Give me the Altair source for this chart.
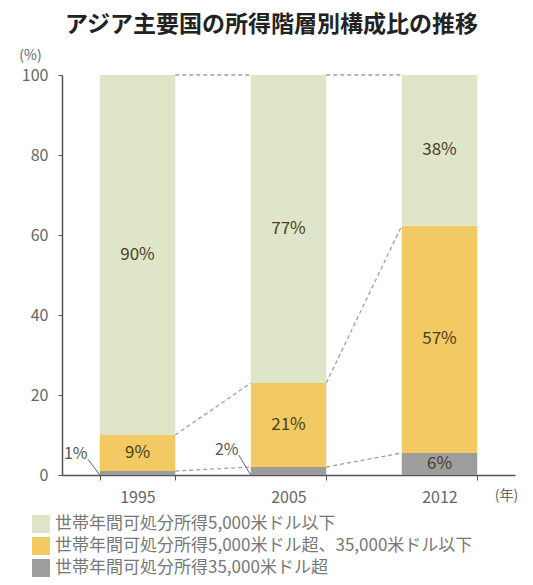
import altair as alt
import pandas as pd
import numpy as np

FONT = "Noto Sans CJK JP"

title_text = "アジア主要国の所得階層別構成比の推移"
years = ["1995", "2005", "2012"]
categories = [
    "世帯年間可処分所得5,000米ドル以下",
    "世帯年間可処分所得5,000米ドル超、35,000米ドル以下",
    "世帯年間可処分所得35,000米ドル超",
]
low_share = [90, 77, 37.7]
mid_share = [9, 21, 56.8]
high_share = [1, 2, 5.5]
low_labels = ["90%", "77%", "38%"]
mid_labels = ["9%", "21%", "57%"]
high_labels = ["1%", "2%", "6%"]
colors = ["#dfe5c8", "#f2c962", "#9d9d9d"]
y_ticks = [0, 20, 40, 60, 80, 100]

rows = []
for i, yr in enumerate(years):
    series = [
        (categories[2], high_share, high_labels),
        (categories[1], mid_share, mid_labels),
        (categories[0], low_share, low_labels),
    ]
    for rank, (cat, vals, labs) in enumerate(series):
        rows.append({"year": yr, "category": cat, "value": vals[i],
                     "label": labs[i], "order": rank, "inside": bool(vals[i] >= 4)})
df = pd.DataFrame(rows)

g_top = np.array(high_share, dtype=float)
y_top = g_top + np.array(mid_share, dtype=float)
t_top = y_top + np.array(low_share, dtype=float)
conn = []
for i in range(len(years) - 1):
    for lev in (g_top, y_top, t_top):
        conn.append({"from": years[i], "to": years[i + 1],
                     "y_from": float(lev[i]), "y_to": float(lev[i + 1])})
conn_df = pd.DataFrame(conn)

x_scale = alt.Scale(domain=years, paddingInner=0.5, paddingOuter=0.25)
y_scale = alt.Scale(domain=[0, 100], nice=False)

x_axis = alt.Axis(title="(年)", labelAngle=0, labelFontSize=16, labelColor="#666",
                  labelFont=FONT, labelPadding=9, tickBand="extent", tickSize=5,
                  tickColor="#555", domainColor="#555", domainWidth=1.5,
                  titleFontSize=14, titleFontWeight="normal", titleColor="#666",
                  titleFont=FONT, titleX=444, titleY=20, titleAlign="center",
                  titleBaseline="middle")
y_axis = alt.Axis(title="(%)", values=y_ticks, labelFontSize=16, labelColor="#666",
                  labelFont=FONT, tickSize=4, tickColor="#555", labelPadding=10,
                  domainColor="#555", domainWidth=1.5, grid=False,
                  titleAngle=0, titleX=-32, titleY=-20, titleAlign="center",
                  titleBaseline="middle", titleFontSize=14, titleFontWeight="normal",
                  titleColor="#666", titleFont=FONT)

base = alt.Chart(df).transform_stack(
    stack="value", groupby=["year"], as_=["y0", "y1"],
    sort=[alt.SortField("order", order="ascending")]
).transform_calculate(mid="(datum.y0 + datum.y1) / 2")

bars = base.mark_bar().encode(
    x=alt.X("year:O", scale=x_scale, axis=x_axis),
    y=alt.Y("y0:Q", scale=y_scale, axis=y_axis),
    y2="y1:Q",
    color=alt.Color("category:N",
                    scale=alt.Scale(domain=categories, range=colors),
                    legend=alt.Legend(title=None, orient="none", legendX=-30, legendY=440,
                                      symbolType="square", symbolSize=324,
                                      symbolStrokeWidth=0, symbolOpacity=1,
                                      labelFontSize=17, labelColor="#777",
                                      labelFont=FONT, labelLimit=700, labelOffset=5,
                                      rowPadding=4, padding=0)),
)

inside_text = base.transform_filter("datum.inside").mark_text(
    fontSize=17, color="#4a4122", font=FONT
).encode(
    x=alt.X("year:O", scale=x_scale, axis=x_axis),
    y=alt.Y("mid:Q", scale=y_scale, axis=y_axis),
    text="label:N",
)

outside_text = base.transform_filter("!datum.inside").mark_text(
    fontSize=16, color="#555", font=FONT, xOffset=-24, yOffset=-17
).encode(
    x=alt.X("year:O", scale=x_scale, axis=x_axis, bandPosition=0),
    y=alt.Y("y1:Q", scale=y_scale, axis=y_axis),
    text="label:N",
)

leaders = base.transform_filter("!datum.inside").mark_rule(
    color="#666", strokeWidth=1, xOffset=-12, yOffset=-12
).encode(
    x=alt.X("year:O", scale=x_scale, axis=x_axis, bandPosition=0),
    x2=alt.X2("year", bandPosition=0),
    y=alt.Y("y1:Q", scale=y_scale, axis=y_axis),
    y2=alt.Y2("y0"),
)

connectors = alt.Chart(conn_df).mark_rule(
    color="#a0a0a0", strokeWidth=1.3, strokeDash=[4, 3]
).encode(
    x=alt.X("from:O", scale=x_scale, axis=x_axis, bandPosition=1),
    x2=alt.X2("to", bandPosition=0),
    y=alt.Y("y_from:Q", scale=y_scale, axis=y_axis),
    y2=alt.Y2("y_to"),
)

chart = alt.layer(bars, connectors, inside_text, outside_text, leaders).properties(
    width=453, height=400,
    title=alt.Title(title_text, fontSize=23, fontWeight="bold", font=FONT,
                    color="#222", anchor="middle", frame="group", offset=11, dx=-17),
    padding={"left": 54, "top": 67, "right": 10, "bottom": 102},
    autosize=alt.AutoSizeParams(type="none"),
).configure_view(stroke=None)

chart.save("out.html", embed_options={"renderer": "svg", "actions": False})
